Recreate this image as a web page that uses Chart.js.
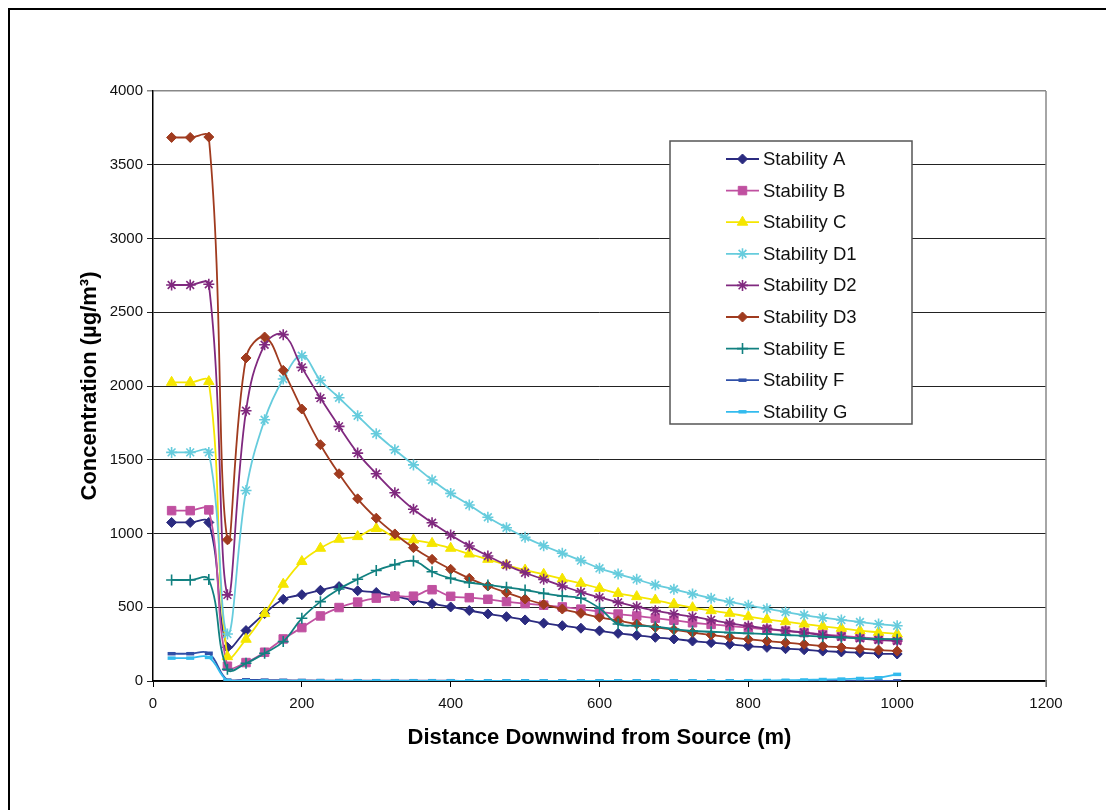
<!DOCTYPE html>
<html>
<head>
<meta charset="utf-8">
<script src="https://cdn.jsdelivr.net/npm/chart.js@4/dist/chart.umd.min.js"></script>
<style>
  html, body { margin: 0; padding: 0; background: #fff; }
  canvas { display: block; }
</style>
</head>
<body>
<canvas id="chartContainer" width="1106" height="810"></canvas>
<script>
var distance = [25, 50, 75, 100, 125, 150, 175, 200, 225, 250, 275, 300, 325, 350, 375, 400, 425, 450, 475, 500,
                525, 550, 575, 600, 625, 650, 675, 700, 725, 750, 775, 800, 825, 850, 875, 900, 925, 950, 975, 1000];

var stabA  = [1075, 1075, 1075, 228, 342, 457, 554, 585, 615, 640, 612, 600, 575, 546, 524, 502, 478, 455, 436, 414,
              392, 375, 358, 340, 323, 310, 296, 285, 271, 260, 249, 237, 228, 219, 212, 203, 197, 192, 186, 183];
var stabB  = [1155, 1155, 1160, 100, 125, 195, 285, 362, 441, 498, 535, 562, 575, 575, 619, 574, 565, 554, 538, 525,
              514, 502, 487, 470, 454, 441, 426, 412, 395, 384, 373, 362, 350, 339, 328, 316, 305, 296, 286, 279];
var stabC  = [2025, 2025, 2030, 165, 283, 457, 656, 810, 900, 961, 979, 1034, 976, 956, 933, 900, 861, 825, 786, 752,
              723, 691, 662, 628, 594, 572, 549, 521, 497, 477, 459, 436, 418, 402, 386, 371, 357, 341, 330, 319];
var stabD1 = [1550, 1550, 1550, 319, 1292, 1771, 2047, 2205, 2038, 1920, 1798, 1676, 1568, 1465, 1363, 1272, 1193, 1110, 1039, 974,
              917, 866, 816, 764, 725, 689, 651, 622, 590, 561, 536, 513, 490, 468, 447, 429, 414, 400, 386, 375];
var stabD2 = [2685, 2685, 2690, 584, 1832, 2280, 2348, 2126, 1918, 1726, 1545, 1405, 1276, 1164, 1073, 990, 915, 847, 786, 734,
              689, 644, 603, 567, 533, 504, 477, 455, 436, 414, 391, 373, 355, 341, 328, 312, 300, 289, 278, 271];
var stabD3 = [3685, 3685, 3688, 957, 2190, 2332, 2106, 1844, 1602, 1405, 1235, 1104, 997, 904, 825, 757, 696, 644, 599, 556,
              520, 488, 459, 432, 409, 386, 364, 348, 328, 312, 296, 283, 271, 260, 249, 237, 228, 219, 210, 203];
var stabE  = [685, 685, 688, 79, 120, 188, 267, 425, 538, 624, 690, 749, 789, 814, 741, 696, 667, 651, 635, 617,
              594, 576, 561, 493, 386, 375, 368, 352, 339, 334, 328, 323, 319, 312, 307, 300, 296, 289, 285, 283];
var stabF  = [185, 185, 188, 6, 8, 6, 5, 4, 3, 3, 2, 2, 2, 2, 2, 2, 1, 1, 1, 1,
              1, 1, 1, 1, 1, 1, 1, 1, 1, 1, 1, 1, 1, 1, 1, 1, 1, 1, 1, 1];
var stabG  = [155, 155, 160, 3, 1, 1, 1, 1, 1, 1, 1, 1, 1, 1, 1, 1, 1, 1, 1, 1,
              1, 1, 1, 1, 1, 1, 1, 1, 1, 1, 1, 2, 3, 5, 7, 10, 13, 17, 22, 45];

var seriesNames  = ['Stability A', 'Stability B', 'Stability C', 'Stability D1', 'Stability D2',
                    'Stability D3', 'Stability E', 'Stability F', 'Stability G'];
var seriesValues = [stabA, stabB, stabC, stabD1, stabD2, stabD3, stabE, stabF, stabG];
var seriesColors = ['#2b2b80', '#c050a0', '#f5e600', '#66ccdd', '#80297f', '#a03b1f', '#118080', '#3050a8', '#33bbee'];
var seriesMarks  = ['rectRot', 'rect', 'triangle', 'star', 'star', 'rectRot', 'cross', 'line', 'line'];
var markSizes    = [5, 6, 6, 5.5, 5.5, 5, 5.5, 4, 4];

var xTicks = [0, 200, 400, 600, 800, 1000, 1200];
var yTicks = [0, 500, 1000, 1500, 2000, 2500, 3000, 3500, 4000];

Chart.defaults.font.family = '"Liberation Sans", Arial, sans-serif';
Chart.defaults.color = '#111';

var datasets = seriesNames.map(function (name, i) {
    var c = seriesColors[i];
    var mark = seriesMarks[i];
    var stroked = mark === 'star' || mark === 'cross';
    return {
        label: name,
        data: distance.map(function (d, k) { return { x: d, y: seriesValues[i][k] }; }),
        borderColor: c,
        backgroundColor: c,
        borderWidth: 1.8,
        tension: 0.4,
        pointStyle: mark,
        pointRadius: markSizes[i],
        pointBorderWidth: mark === 'line' ? 3.5 : (stroked ? 1.6 : 1),
        pointBackgroundColor: c,
        pointBorderColor: c,
        order: seriesNames.length - i
    };
});

// frame round the picture (top and left only) plus grey right edge of plot
var framePlugin = {
    id: 'frame',
    beforeDraw: function (chart) {
        var ctx = chart.ctx;
        ctx.save();
        ctx.fillStyle = '#fff';
        ctx.fillRect(0, 0, chart.width, chart.height);
        ctx.strokeStyle = '#000';
        ctx.lineWidth = 2;
        ctx.beginPath();
        ctx.moveTo(9, chart.height);
        ctx.lineTo(9, 9);
        ctx.lineTo(chart.width, 9);
        ctx.stroke();
        ctx.restore();
    },
    afterDatasetsDraw: function (chart) {
        var a = chart.chartArea, ctx = chart.ctx;
        ctx.save();
        ctx.strokeStyle = '#888';
        ctx.lineWidth = 1.5;
        ctx.beginPath();
        ctx.moveTo(a.right, a.top);
        ctx.lineTo(a.right, a.bottom + 6);
        ctx.stroke();
        ctx.restore();
    }
};

// Excel-style legend box inside the plot
var boxLegend = {
    id: 'boxLegend',
    afterDraw: function (chart) {
        var ctx = chart.ctx;
        var left = 670, top = 141, w = 242, h = 283;
        ctx.save();
        ctx.fillStyle = '#fff';
        ctx.fillRect(left, top, w, h);
        ctx.strokeStyle = '#555';
        ctx.lineWidth = 1.5;
        ctx.strokeRect(left, top, w, h);
        ctx.font = '18.5px "Liberation Sans", Arial, sans-serif';
        ctx.textBaseline = 'middle';
        chart.data.datasets.forEach(function (ds, i) {
            var y = top + 18 + i * 31.6;
            ctx.strokeStyle = ds.borderColor;
            ctx.fillStyle = ds.borderColor;
            ctx.lineWidth = 1.8;
            ctx.beginPath();
            ctx.moveTo(726, y);
            ctx.lineTo(759, y);
            ctx.stroke();
            ctx.lineWidth = ds.pointBorderWidth;
            Chart.helpers.drawPoint(ctx, { pointStyle: ds.pointStyle, radius: ds.pointRadius, rotation: 0, borderWidth: ds.pointBorderWidth }, 742.5, y);
            ctx.fillStyle = '#111';
            ctx.fillText(ds.label, 763, y + 1);
        });
        ctx.restore();
    }
};

var plainNumber = function (v) { return String(v); };

var options = {
    type: 'line',
    data: { datasets: datasets },
    options: {
        responsive: false,
        animation: false,
        layout: { padding: { top: 91, right: 60, left: 0, bottom: 0 } },
        plugins: { legend: { display: false }, tooltip: { enabled: false } },
        scales: {
            x: {
                type: 'linear',
                min: 0, max: 1200,
                afterFit: function (scale) { scale.height = 129; },
                afterBuildTicks: function (scale) { scale.ticks = xTicks.map(function (v) { return { value: v }; }); },
                grid: { drawOnChartArea: false, drawTicks: true, tickLength: 6, color: '#000' },
                border: { display: true, color: '#000', width: 1.5 },
                ticks: { font: { size: 15 }, padding: 8, maxRotation: 0, color: '#111', callback: plainNumber },
                title: {
                    display: true,
                    text: 'Distance Downwind from Source (m)',
                    font: { size: 22, weight: 'bold' },
                    color: '#000',
                    padding: { top: 0, bottom: 59 }
                }
            },
            y: {
                min: 0, max: 4000,
                afterFit: function (scale) { scale.width = 153; },
                afterBuildTicks: function (scale) { scale.ticks = yTicks.map(function (v) { return { value: v }; }); },
                grid: {
                    color: function (c) { return c.tick && c.tick.value === 4000 ? '#888' : '#222'; },
                    lineWidth: function (c) { return c.tick && c.tick.value === 4000 ? 1.5 : 1; },
                    tickLength: 6
                },
                border: { display: true, color: '#000', width: 1.5 },
                ticks: { font: { size: 15 }, padding: 4, color: '#111', callback: plainNumber },
                title: {
                    display: true,
                    text: 'Concentration (µg/m³)',
                    font: { size: 22, weight: 'bold' },
                    color: '#000',
                    padding: { top: 77, bottom: 0 }
                }
            }
        }
    },
    plugins: [framePlugin, boxLegend]
};

var ctx = document.getElementById('chartContainer').getContext('2d');
new Chart(ctx, options);
</script>
</body>
</html>
